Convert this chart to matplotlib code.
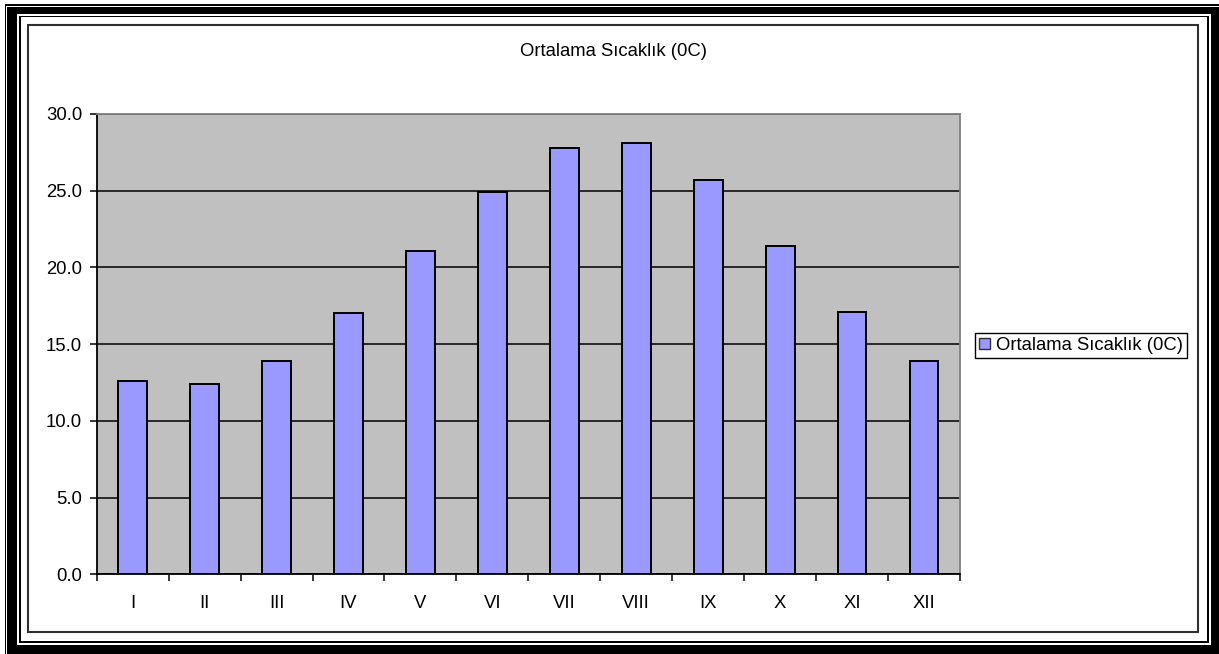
import matplotlib
matplotlib.use("Agg")
import matplotlib.pyplot as plt
from matplotlib.patches import Rectangle
from matplotlib.ticker import FixedLocator, FormatStrFormatter, NullFormatter

plt.rcParams['font.family'] = ['Liberation Sans', 'DejaVu Sans']

# Monthly mean temperature (°C)
months = ["I", "II", "III", "IV", "V", "VI", "VII", "VIII", "IX", "X", "XI", "XII"]
temps = [12.6, 12.4, 13.9, 17.0, 21.1, 24.9, 27.8, 28.1, 25.7, 21.4, 17.1, 13.9]
series_name = "Ortalama Sıcaklık (0C)"
y_ticks = [0, 5, 10, 15, 20, 25, 30]

FS = 13.3

W, H = 1219, 654
fig = plt.figure(figsize=(W / 100, H / 100), dpi=100)
fig.patch.set_facecolor("white")


def px_rect(x0, y0, x1, y1, **kw):
    """Rectangle given in pixel coordinates measured from the top-left corner."""
    r = Rectangle((x0 / W, 1 - y1 / H), (x1 - x0) / W, (y1 - y0) / H,
                  transform=fig.transFigure, zorder=-10, **kw)
    fig.add_artist(r)
    return r


# Decorative double frame around the chart
px_rect(5, 4, W + 5, H + 5, facecolor="black", edgecolor="none")
px_rect(6, 6, W + 5, H + 5, facecolor="white", edgecolor="none")
px_rect(7.3, 7.3, W + 5, H + 5, facecolor="black", edgecolor="none")
px_rect(16.7, 14, 1211, 645, facecolor="white", edgecolor="none")
px_rect(18.7, 15.5, 1209, 643.3, facecolor="black", edgecolor="none")
px_rect(20.7, 17.3, 1207, 641, facecolor="white", edgecolor="none")
px_rect(28.3, 25, 1198, 632.4, facecolor="white", edgecolor="#303030", linewidth=1.5)

# Plot area
ax_left, ax_right = 96.7, 960.0
ax_top, ax_bottom = 114.0, 574.3
ax = fig.add_axes([ax_left / W, 1 - ax_bottom / H,
                   (ax_right - ax_left) / W, (ax_bottom - ax_top) / H])
ax.set_facecolor("#C0C0C0")

x = list(range(len(months)))
ax.bar(x, temps, width=0.4, color="#9999FF", edgecolor="black",
       linewidth=1.4, zorder=3, label=series_name)

ax.set_xlim(-0.5, len(months) - 0.5)
ax.set_ylim(0, 30)

# Horizontal gridlines
ax.yaxis.set_major_locator(FixedLocator(y_ticks))
ax.yaxis.set_major_formatter(FormatStrFormatter("%.1f"))
ax.grid(axis="y", color="black", linewidth=1.1, zorder=1)
ax.set_axisbelow(True)

# Category ticks sit between bars; labels sit under bar centres
ax.xaxis.set_major_locator(FixedLocator([i - 0.5 for i in range(len(months) + 1)]))
ax.xaxis.set_major_formatter(NullFormatter())
ax.xaxis.set_minor_locator(FixedLocator(x))
ax.set_xticklabels(months, minor=True)
ax.tick_params(axis="x", which="major", direction="out", length=5,
               width=1.1, color="black")
ax.tick_params(axis="x", which="minor", length=0, pad=15, labelsize=FS)
ax.tick_params(axis="y", direction="out", length=5, width=1.1,
               color="black", pad=5.5, labelsize=FS)

for side in ("left", "bottom"):
    ax.spines[side].set_color("black")
    ax.spines[side].set_linewidth(1.3)
for side in ("top", "right"):
    ax.spines[side].set_color("#808080")
    ax.spines[side].set_linewidth(1.3)

fig.text(614 / W, 1 - 52 / H, series_name, ha="center", va="center",
         fontsize=FS)

leg = fig.legend(loc="center left", bbox_to_anchor=(975 / W, 1 - 345.5 / H),
                 bbox_transform=fig.transFigure, fontsize=FS,
                 frameon=True, fancybox=False, framealpha=1,
                 edgecolor="black", borderpad=0.22, borderaxespad=0,
                 handlelength=0.6, handleheight=0.6, handletextpad=0.3)
leg.get_frame().set_linewidth(1.0)
for h in leg.legend_handles:
    h.set_linewidth(1.0)
    h.set_edgecolor("#303030")

fig.savefig("out.png", dpi=100)
